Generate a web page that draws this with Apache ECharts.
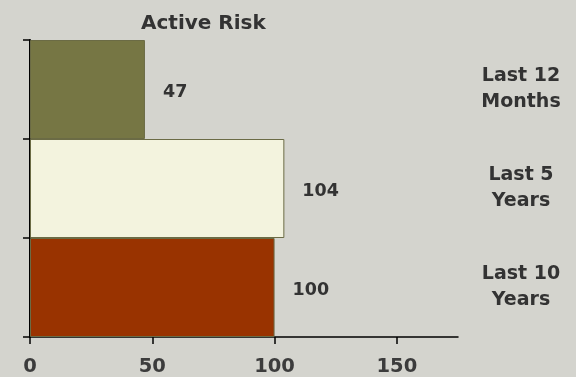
<!DOCTYPE html>
<html>
<head>
<meta charset="utf-8">
<script src="https://cdn.jsdelivr.net/npm/echarts@6/dist/echarts.min.js"></script>
<style>
html,body{margin:0;padding:0;background:#D4D4CE;}
#chart{width:576px;height:377px;}
</style>
</head>
<body>
<div id="chart"></div>
<script>
const categories = ["Last 12\nMonths", "Last 5\nYears", "Last 10\nYears"];
const values = [47, 104, 100];
const barColors = ["#767644", "#F3F3DE", "#993300"];
const xTicks = [0, 50, 100, 150];
const titleText = "Active Risk";

const chart = echarts.init(document.getElementById('chart'));
const font = '"DejaVu Sans", Verdana, sans-serif';
chart.setOption({
  backgroundColor: '#D4D4CE',
  animation: false,
  title: {
    text: titleText,
    left: 136, top: 9,
    textStyle: {fontFamily: font, fontWeight: 'bold', fontSize: 20, color: '#333333'}
  },
  grid: {left: 30, right: 118, top: 40, bottom: 39, containLabel: false},
  xAxis: {
    type: 'value', min: 0, max: 175, interval: 50,
    axisLine: {show: true, lineStyle: {color: '#000', width: 1.5}},
    axisTick: {show: true, length: 7, lineStyle: {color: '#000', width: 1.5}, customValues: xTicks},
    axisLabel: {customValues: xTicks, fontFamily: font, fontWeight: 'bold', fontSize: 19.5, color: '#3c3c3c', margin: 20},
    splitLine: {show: false}
  },
  yAxis: [{
    type: 'category', data: categories, inverse: true,
    axisLine: {show: true, lineStyle: {color: '#000', width: 2}},
    axisTick: {show: true, length: 7, lineStyle: {color: '#000', width: 1.5}},
    axisLabel: {show: false},
    splitLine: {show: false}
  }, {
    type: 'category', data: categories, inverse: true, position: 'right',
    axisLine: {show: false}, axisTick: {show: false},
    axisLabel: {show: true, align: 'center', margin: 63, padding: [4, 0, 0, 0], fontFamily: font, fontWeight: 'bold', fontSize: 19, lineHeight: 26, color: '#333333'}
  }],
  series: [{
    type: 'bar',
    yAxisIndex: 0,
    barCategoryGap: '0%',
    data: values.map((v, i) => ({value: v, itemStyle: {color: barColors[i]}})),
    itemStyle: {borderColor: '#6B6B45', borderWidth: 1},
    label: {show: true, position: 'right', distance: 18, offset: [0, 3], fontFamily: font, fontWeight: 'bold', fontSize: 17.5, color: '#333333'}
  }]
});
</script>
</body>
</html>
